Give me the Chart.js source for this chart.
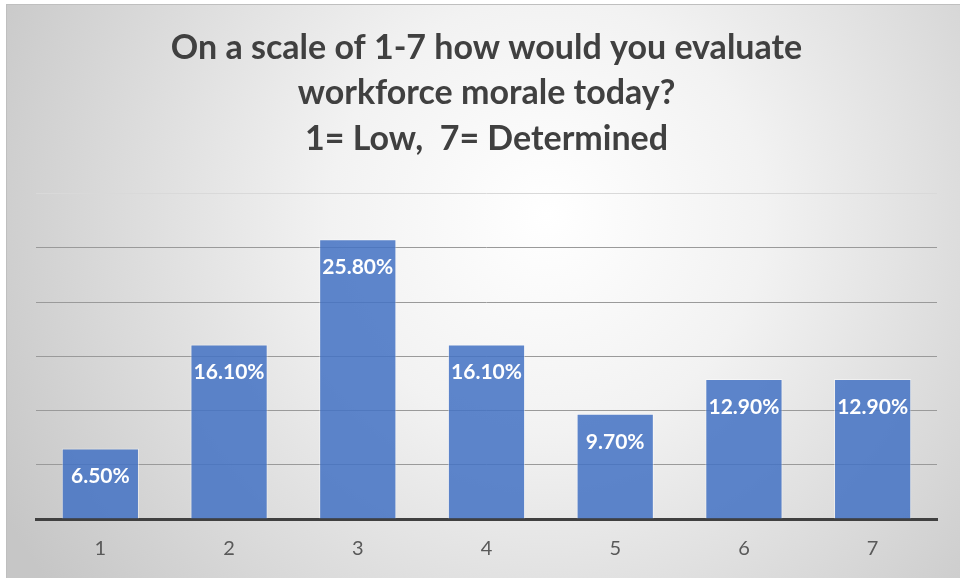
<!DOCTYPE html>
<html>
<head>
<meta charset="utf-8">
<script src="https://cdn.jsdelivr.net/npm/chart.js@4"></script>
<style>
  html, body { margin: 0; padding: 0; background: #ffffff; }
  .wrap { position: absolute; left: 6px; top: 4px; width: 954px; height: 574px;
          border-top: 1px solid #bfbfbf; border-left: 1px solid #bfbfbf; box-sizing: border-box; }
  canvas { display: block; }
</style>
</head>
<body>
<div class="wrap"><canvas id="morale"></canvas></div>
<script>
const categories = ['1', '2', '3', '4', '5', '6', '7'];
const percents = [6.5, 16.1, 25.8, 16.1, 9.7, 12.9, 12.9];
const titleLines = ['On a scale of 1-7 how would you evaluate', 'workforce morale today?', '1= Low,  7= Determined'];

// grey-to-white radial background like the Office chart style
const bgPlugin = {
    id: 'bg',
    beforeDraw(chart) {
        const c = chart.ctx;
        const w = chart.width, h = chart.height;
        const g = c.createRadialGradient(540, 210, 0, 540, 210, 620);
        g.addColorStop(0, '#ffffff');
        g.addColorStop(0.35, '#f2f2f2');
        g.addColorStop(1, '#c6c6c6');
        c.save();
        c.fillStyle = g;
        c.fillRect(0, 0, w, h);
        c.restore();
    }
};

// value labels inside the top of each bar
const labelPlugin = {
    id: 'barLabels',
    afterDatasetsDraw(chart) {
        const c = chart.ctx;
        const meta = chart.getDatasetMeta(0);
        c.save();
        c.font = 'bold 21px Lato';
        c.fillStyle = '#ffffff';
        c.textAlign = 'center';
        c.textBaseline = 'middle';
        meta.data.forEach((bar, i) => {
            c.fillText(percents[i].toFixed(2) + '%', bar.x, bar.y + 28);
        });
        c.restore();
    }
};

const ctx = document.getElementById('morale').getContext('2d');
new Chart(ctx, {
    type: 'bar',
    data: {
        labels: categories,
        datasets: [{
            data: percents,
            backgroundColor: 'rgba(68, 114, 196, 0.86)',
            borderColor: 'rgba(255, 255, 255, 0.45)',
            borderWidth: 1,
            barPercentage: 0.6,
            categoryPercentage: 1
        }]
    },
    options: {
        responsive: true,
        maintainAspectRatio: false,
        animation: false,
        layout: {
            padding: { left: 29, right: 23, top: 0, bottom: 7 }
        },
        plugins: {
            legend: { display: false },
            tooltip: { enabled: false },
            title: {
                display: true,
                text: titleLines,
                color: '#404040',
                font: { family: 'Lato', size: 34, weight: 'bold', lineHeight: 1.34 },
                padding: { top: 20, bottom: 32 }
            }
        },
        scales: {
            x: {
                grid: { display: false },
                border: { display: true, color: '#404040', width: 3 },
                ticks: {
                    color: '#595959',
                    font: { family: 'Lato', size: 20 },
                    padding: 10
                }
            },
            y: {
                min: 0,
                max: 30,
                ticks: { display: false, stepSize: 5 },
                border: { display: false },
                grid: {
                    color: (c) => c.tick.value === 30 ? '#d9d9d9' : (c.tick.value === 0 ? 'rgba(0,0,0,0)' : '#9a9a9a'),
                    lineWidth: 1,
                    drawTicks: false
                }
            }
        }
    },
    plugins: [bgPlugin, labelPlugin]
});
</script>
</body>
</html>
